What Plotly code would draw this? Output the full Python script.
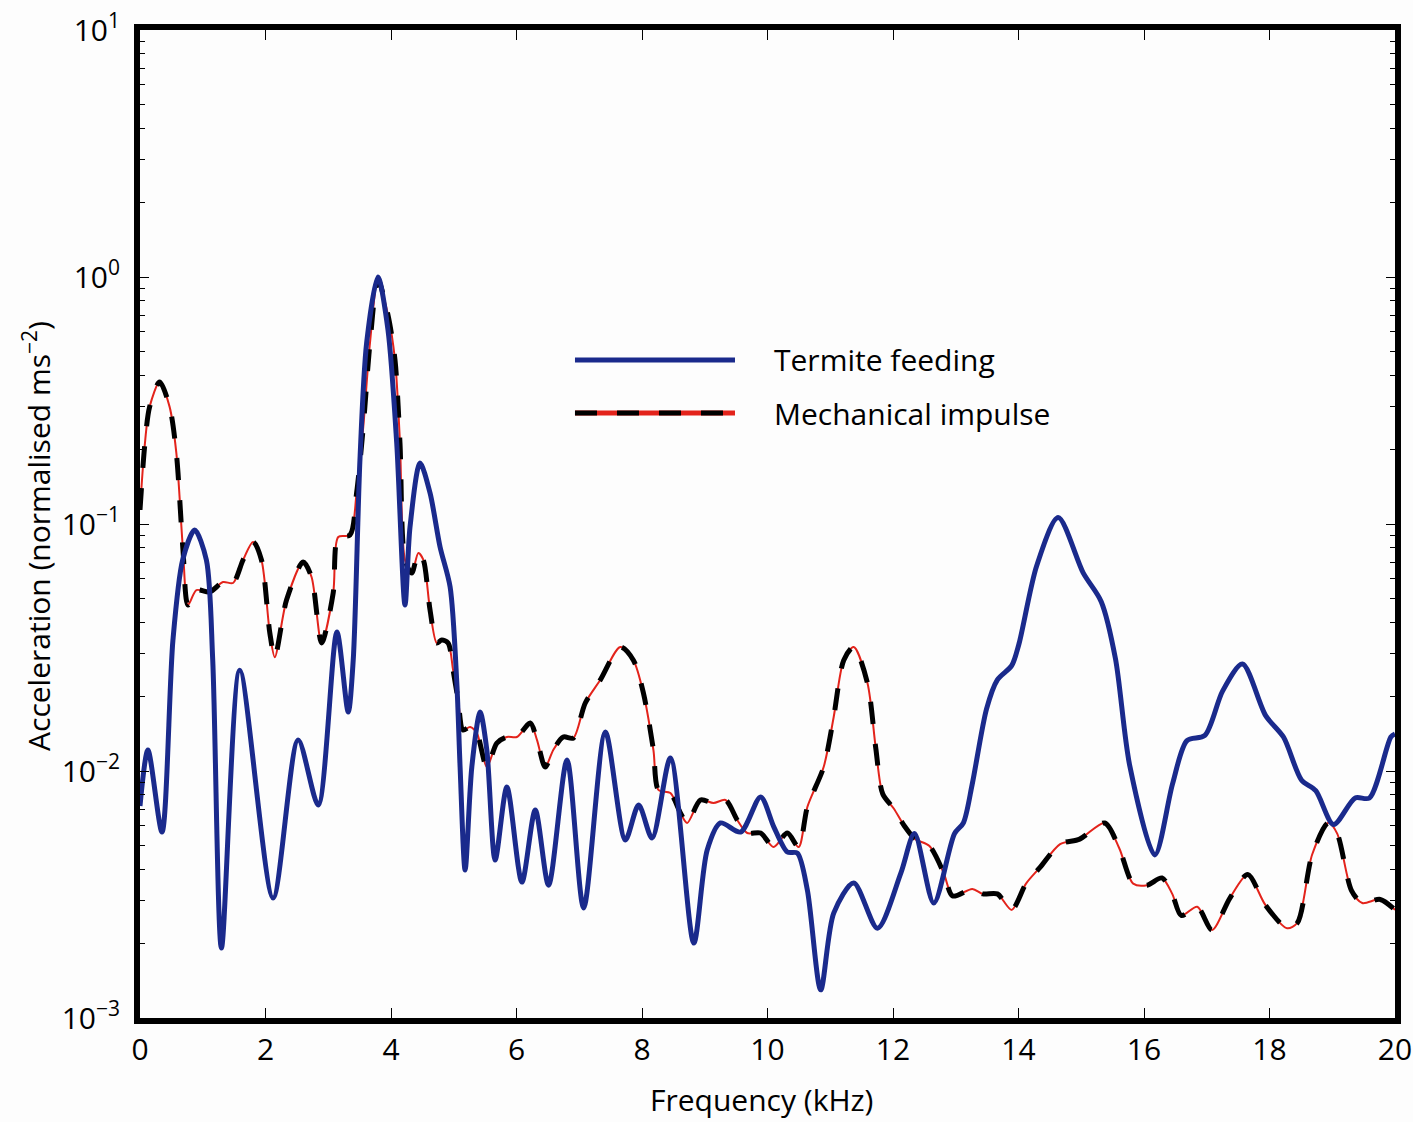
import plotly.graph_objects as go

# ---------------- data ----------------
termite_freq = [0.0, 0.126, 0.35, 0.525, 0.68, 0.871, 1.058, 1.159, 1.298, 1.59, 2.121, 2.52, 2.84,
                3.138, 3.318, 3.398, 3.505, 3.612, 3.792, 3.952, 4.091, 4.223, 4.303, 4.463, 4.622,
                4.782, 4.942, 5.049, 5.101, 5.181, 5.288, 5.42, 5.527, 5.66, 5.847, 6.086, 6.299,
                6.511, 6.805, 7.07, 7.416, 7.735, 7.947, 8.161, 8.453, 8.825, 9.039, 9.251, 9.571,
                9.89, 10.102, 10.316, 10.476, 10.635, 10.848, 11.055, 11.374, 11.754, 12.125,
                12.342, 12.65, 12.98, 13.122, 13.264, 13.492, 13.663, 13.891, 14.006, 14.29,
                14.632, 15.031, 15.317, 15.545, 15.773, 16.172, 16.456, 16.685, 16.97, 17.254,
                17.569, 17.939, 18.223, 18.509, 18.737, 19.021, 19.365, 19.593, 19.934, 20.0]
termite_accel = [0.00722, 0.01216, 0.00566, 0.0339, 0.0715, 0.0946, 0.0715, 0.0281, 0.00192,
                 0.0256, 0.00306, 0.01336, 0.00728, 0.0365, 0.01733, 0.0281, 0.1816, 0.541, 1.0,
                 0.61, 0.213, 0.047, 0.0972, 0.1766, 0.1336, 0.0807, 0.0556, 0.0227, 0.01038,
                 0.00397, 0.01038, 0.01733, 0.01216, 0.00436, 0.00861, 0.00355, 0.00695, 0.00345,
                 0.01108, 0.00279, 0.01439, 0.00526, 0.00728, 0.00535, 0.01129, 0.00201, 0.00479,
                 0.00616, 0.00566, 0.00785, 0.00593, 0.0047, 0.00465, 0.0033, 0.0013, 0.00266,
                 0.00352, 0.00231, 0.00386, 0.00558, 0.00292, 0.00558, 0.00617, 0.00889, 0.0179,
                 0.0234, 0.0267, 0.0326, 0.0678, 0.1062, 0.0634, 0.0486, 0.0285, 0.0105, 0.00457,
                 0.00889, 0.01327, 0.01393, 0.0211, 0.0271, 0.01675, 0.01372, 0.0092, 0.00832,
                 0.00607, 0.00778, 0.00778, 0.01372, 0.01412]

impulse_freq = [0.0, 0.073, 0.153, 0.313, 0.472, 0.579, 0.685, 0.765, 0.899, 1.111, 1.323, 1.483,
                1.642, 1.802, 1.936, 2.069, 2.148, 2.335, 2.6, 2.734, 2.894, 3.079, 3.159, 3.346,
                3.452, 3.558, 3.665, 3.792, 3.952, 4.064, 4.143, 4.223, 4.33, 4.436, 4.516, 4.622,
                4.729, 4.809, 4.91, 4.99, 5.069, 5.149, 5.261, 5.368, 5.527, 5.687, 5.847, 6.006,
                6.219, 6.326, 6.458, 6.586, 6.745, 6.905, 7.096, 7.336, 7.655, 7.863, 8.022, 8.182,
                8.262, 8.453, 8.613, 8.72, 8.932, 9.139, 9.331, 9.518, 9.677, 9.89, 10.097, 10.316,
                10.496, 10.635, 10.895, 11.055, 11.215, 11.374, 11.593, 11.725, 11.837, 12.012,
                12.182, 12.353, 12.581, 12.809, 12.951, 13.264, 13.433, 13.663, 13.891, 14.12,
                14.343, 14.663, 14.975, 15.374, 15.604, 15.828, 16.051, 16.286, 16.45, 16.594,
                16.849, 17.084, 17.369, 17.654, 17.934, 18.281, 18.445, 18.68, 18.937, 19.079,
                19.307, 19.478, 19.764, 20.0]
impulse_accel = [0.114, 0.205, 0.298, 0.376, 0.298, 0.194, 0.0785, 0.047, 0.054, 0.0531, 0.0582,
                 0.0577, 0.0715, 0.0846, 0.0715, 0.0362, 0.0289, 0.0492, 0.0702, 0.061, 0.033,
                 0.0526, 0.0886, 0.0902, 0.1336, 0.247, 0.541, 0.972, 0.702, 0.461, 0.213, 0.0715,
                 0.0633, 0.0763, 0.0715, 0.0449, 0.033, 0.0339, 0.033, 0.0256, 0.0194, 0.01466,
                 0.01508, 0.01425, 0.01038, 0.01298, 0.01373, 0.01373, 0.01564, 0.01336, 0.01038,
                 0.01216, 0.01373, 0.0136, 0.01885, 0.0234, 0.0318, 0.0281, 0.0207, 0.01216,
                 0.00838, 0.00814, 0.00676, 0.00616, 0.00763, 0.00742, 0.00763, 0.00633, 0.00561,
                 0.00561, 0.00492, 0.00561, 0.00492, 0.00715, 0.01038, 0.01655, 0.0281, 0.0318,
                 0.0227, 0.0124, 0.00807, 0.00705, 0.00599, 0.0053, 0.00497, 0.00386, 0.00312,
                 0.00333, 0.00318, 0.00318, 0.00274, 0.0035, 0.00407, 0.00506, 0.0053, 0.00616,
                 0.00488, 0.0035, 0.00345, 0.00369, 0.00318, 0.0026, 0.00282, 0.00227, 0.00306,
                 0.00381, 0.00287, 0.00231, 0.00243, 0.00459, 0.00617, 0.00558, 0.00328, 0.00292,
                 0.00302, 0.00274]

x_ticks = [0, 2, 4, 6, 8, 10, 12, 14, 16, 18, 20]
y_ticks = [1e-3, 1e-2, 1e-1, 1e0, 1e1]
y_tick_text = ["10<sup>\u22123</sup>", "10<sup>\u22122</sup>", "10<sup>\u22121</sup>",
               "10<sup>0</sup>", "10<sup>1</sup>"]
series_names = ["Termite feeding", "Mechanical impulse"]

BLUE = "#1a2a8c"
RED = "#e3231b"
FONT = "Open Sans"
FS = 30
DASH = "22px,20px"

fig = go.Figure()
fig.add_trace(go.Scatter(x=impulse_freq, y=impulse_accel, mode="lines", name=series_names[1],
                         line=dict(color=RED, width=2, shape="spline", smoothing=0.8),
                         showlegend=False))
fig.add_trace(go.Scatter(x=impulse_freq, y=impulse_accel, mode="lines", name=series_names[1],
                         line=dict(color="black", width=5, dash=DASH, shape="spline", smoothing=0.8),
                         showlegend=False))
fig.add_trace(go.Scatter(x=termite_freq, y=termite_accel, mode="lines", name=series_names[0],
                         line=dict(color=BLUE, width=5, shape="spline", smoothing=0.8),
                         showlegend=False))

# custom legend (long sample lines as in the reference)
lx0, lx1, ltx = 0.3466, 0.4741, 0.5036
ly = [0.666, 0.6123]
fig.add_shape(type="line", xref="paper", yref="paper", x0=lx0, x1=lx1, y0=ly[0], y1=ly[0],
              line=dict(color=BLUE, width=5))
fig.add_shape(type="line", xref="paper", yref="paper", x0=lx0, x1=lx1, y0=ly[1], y1=ly[1],
              line=dict(color=RED, width=5))
fig.add_shape(type="line", xref="paper", yref="paper", x0=lx0, x1=lx1, y0=ly[1], y1=ly[1],
              line=dict(color="black", width=5, dash=DASH))
for name, yy in zip(series_names, ly):
    fig.add_annotation(x=ltx, y=yy, xref="paper", yref="paper", text=name, showarrow=False,
                       xanchor="left", yanchor="middle", font=dict(family=FONT, size=FS, color="black"))

# axis titles as annotations for exact placement
fig.add_annotation(x=0.495, y=-0.082, xref="paper", yref="paper", text="Frequency (kHz)",
                   showarrow=False, xanchor="center", yanchor="middle",
                   font=dict(family=FONT, size=FS, color="black"))
fig.add_annotation(x=-0.082, y=0.488, xref="paper", yref="paper",
                   text="Acceleration (normalised ms<sup>\u22122</sup>)", textangle=-90,
                   showarrow=False, xanchor="center", yanchor="middle",
                   font=dict(family=FONT, size=FS, color="black"))

axis_common = dict(showline=True, linewidth=6, linecolor="black", mirror="allticks",
                   ticks="inside", tickcolor="black", tickwidth=1, showgrid=False, zeroline=False,
                   tickfont=dict(family=FONT, size=FS, color="black"))

fig.update_xaxes(range=[0, 20], tickvals=x_ticks, ticklen=10, **axis_common)
fig.update_yaxes(type="log", range=[-3, 1], tickvals=y_ticks, ticktext=y_tick_text, ticklen=9,
                 ticklabelstandoff=8,
                 minor=dict(ticks="inside", ticklen=5, tickcolor="black", tickwidth=1,
                            dtick="D1", showgrid=False),
                 **axis_common)

fig.update_layout(width=1413, height=1122,
                  margin=dict(l=140, r=18, t=30, b=104, autoexpand=False),
                  paper_bgcolor="#fdfdfd", plot_bgcolor="#fdfdfd",
                  font=dict(family=FONT, color="black"), showlegend=False)

fig.write_html("out.html")
